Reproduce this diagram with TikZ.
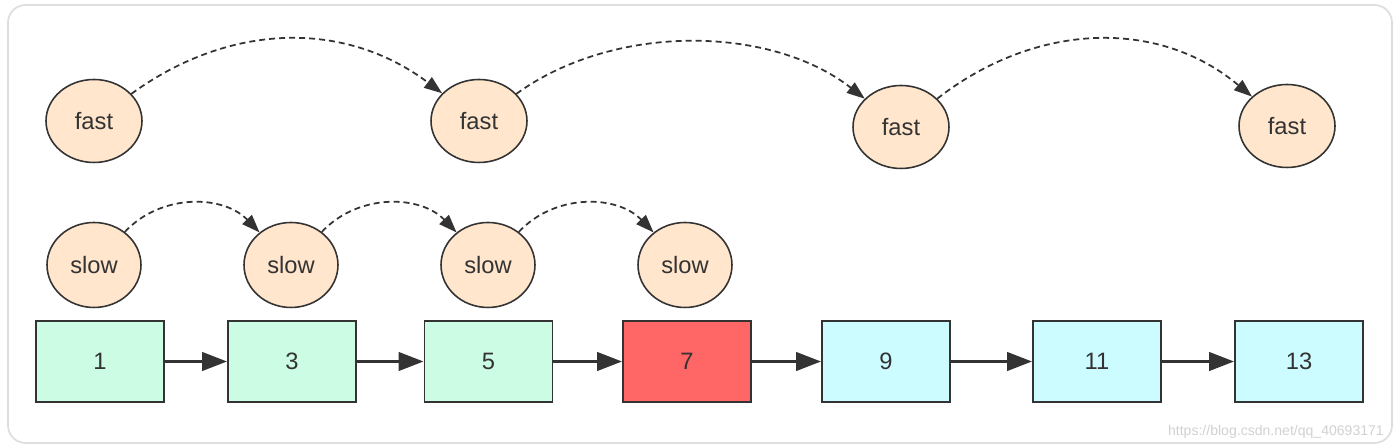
\documentclass[tikz,border=0pt]{standalone}
\usepackage{fontspec}
\setmainfont{Liberation Sans}
\usetikzlibrary{arrows.meta,positioning,shapes.geometric}
\definecolor{ptr}{HTML}{FFE6CC}
\definecolor{seen}{HTML}{CCFCE3}
\definecolor{meet}{HTML}{FF6666}
\definecolor{rest}{HTML}{CCFCFF}
\definecolor{ink}{HTML}{333333}

\begin{document}
\begin{tikzpicture}[x=0.02cm, y=0.02cm,
      ptrnode/.style={ellipse, draw=ink, fill=ptr, line width=0.9pt, inner sep=0pt,
                      font=\fontsize{13.5}{15}\selectfont, text=ink},
      fastnode/.style={ptrnode, minimum width=1.92cm, minimum height=1.66cm},
      slownode/.style={ptrnode, minimum width=1.88cm, minimum height=1.7cm},
      cell/.style={draw=ink, line width=0.9pt, minimum width=2.56cm, minimum height=1.62cm,
                   font=\fontsize{13.5}{15}\selectfont, text=ink},
      g/.style={cell, fill=seen},
      r/.style={cell, fill=meet},
      c/.style={cell, fill=rest},
      link/.style={-{Triangle[length=0.5cm, width=0.36cm]}, line width=2.2pt, ink},
      hop/.style={-{Triangle[length=0.36cm, width=0.26cm]}, line width=1pt, ink,
                  dash pattern=on 0.12cm off 0.08cm}]
    \useasboundingbox (0,0) rectangle (1400,448);
    \draw[rounded corners=10pt, draw=black!13, line width=1pt] (8,5) rectangle (1392,443);
    % fast pointer, two steps per hop
    \node[fastnode] (f1) at (94,327) {fast};
    \node[fastnode] (f2) at (479,327) {fast};
    \node[fastnode] (f3) at (901,321) {fast};
    \node[fastnode] (f4) at (1287,322) {fast};
    % slow pointer, one step per hop
    \node[slownode] (s1) at (94,183) {slow};
    \node[slownode] (s2) at (291,183) {slow};
    \node[slownode] (s3) at (488,183) {slow};
    \node[slownode] (s4) at (685,183) {slow};
    % the list
    \node[g] (n1) at (100,86.5) {1};
    \node[g] (n3) at (292,86.5) {3};
    \node[g] (n5) at (488.5,86.5) {5};
    \node[r] (n7) at (687,86.5) {7};
    \node[c] (n9) at (886,86.5) {9};
    \node[c] (n11) at (1097,86.5) {11};
    \node[c] (n13) at (1299,86.5) {13};
    \draw[link] (n1) -- (n3);
    \draw[link] (n3) -- (n5);
    \draw[link] (n5) -- (n7);
    \draw[link] (n7) -- (n9);
    \draw[link] (n9) -- (n11);
    \draw[link] (n11) -- (n13);
    \draw[hop] (f1) to[out=36, in=143] (f2);
    \draw[hop] (f2) to[out=36, in=142, looseness=0.88] (f3);
    \draw[hop] (f3) to[out=38, in=140] (f4);
    \draw[hop] (s1) to[out=47, in=134] (s2);
    \draw[hop] (s2) to[out=47, in=134] (s3);
    \draw[hop] (s3) to[out=47, in=134] (s4);
    \node[text=black!18, font=\fontsize{8}{9}\selectfont, anchor=east] (wm) at (1390,16) {https://blog.csdn.net/qq\_40693171};
  \end{tikzpicture}
\end{document}
